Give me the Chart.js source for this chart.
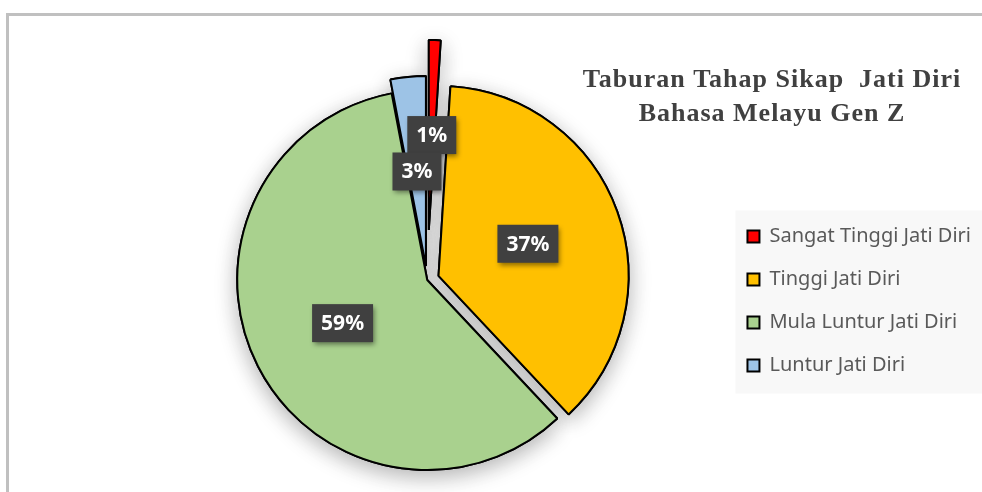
<!DOCTYPE html>
<html>
<head>
<meta charset="utf-8">
<script src="https://cdn.jsdelivr.net/npm/chart.js@4"></script>
<style>
  html, body { margin: 0; padding: 0; background: #fff; overflow: hidden; }
  #wrap { position: relative; width: 982px; height: 492px; }
  #frame {
    position: absolute; left: 6px; top: 13px; width: 1000px; height: 500px;
    border-left: 3px solid #c0c0c0; border-top: 3px solid #c0c0c0;
  }
  canvas { position: absolute; left: 0; top: 0; }
</style>
</head>
<body>
<div id="wrap">
  <div id="frame"></div>
  <canvas id="myPieChart" width="982" height="492"></canvas>
</div>
<script>
const labels = [
  'Sangat Tinggi Jati Diri',
  'Tinggi Jati Diri',
  'Mula Luntur Jati Diri',
  'Luntur Jati Diri'
];
const values = [1, 37, 59, 3]; // percent
const colors = ['#ff0000', '#ffc000', '#a9d18e', '#9dc3e6'];
const explode = [50, 12, 0, 14]; // px each slice is pulled out
const titleLines = ['Taburan Tahap Sikap  Jati Diri', 'Bahasa Melayu Gen Z'];

function shiftOf(arc, i) {
  const mid = (arc.startAngle + arc.endAngle) / 2;
  return { dx: Math.cos(mid) * explode[i], dy: Math.sin(mid) * explode[i], mid: mid };
}

const decor = {
  id: 'decor',
  beforeDraw(chart) {
    // grey box behind the legend
    const boxes = chart.legend.legendHitBoxes;
    if (!boxes || !boxes.length) return;
    const first = boxes[0], last = boxes[boxes.length - 1];
    const ctx = chart.ctx;
    ctx.save();
    ctx.fillStyle = '#f8f8f8';
    ctx.fillRect(first.left - 12, first.top - 16, 260, last.top + last.height - first.top + 34);
    ctx.restore();
  },
  beforeDatasetDraw(chart, args) {
    // exploded slices: shadow pass, then the slices themselves
    const ctx = chart.ctx;
    const arcs = args.meta.data;
    ctx.save();
    ctx.shadowColor = 'rgba(0,0,0,0.3)';
    ctx.shadowBlur = 22;
    ctx.shadowOffsetY = 6;
    arcs.forEach((arc, i) => {
      const s = shiftOf(arc, i);
      ctx.save();
      ctx.translate(s.dx, s.dy);
      arc.draw(ctx);
      ctx.restore();
    });
    ctx.restore();
    arcs.forEach((arc, i) => {
      const s = shiftOf(arc, i);
      ctx.save();
      ctx.translate(s.dx, s.dy);
      arc.draw(ctx);
      ctx.restore();
    });
    return false;
  },
  afterDatasetsDraw(chart) {
    const ctx = chart.ctx;
    const meta = chart.getDatasetMeta(0);
    ctx.save();
    ctx.font = 'bold 21px "Noto Sans"';
    ctx.textAlign = 'center';
    ctx.textBaseline = 'middle';
    meta.data.forEach((arc, i) => {
      const s = shiftOf(arc, i);
      const x = arc.x + s.dx + Math.cos(s.mid) * arc.outerRadius / 2;
      const y = arc.y + s.dy + Math.sin(s.mid) * arc.outerRadius / 2;
      const txt = values[i] + '%';
      const w = ctx.measureText(txt).width + 18;
      const h = 38;
      ctx.save();
      ctx.shadowColor = 'rgba(0,0,0,0.45)';
      ctx.shadowBlur = 5;
      ctx.shadowOffsetX = 2;
      ctx.shadowOffsetY = 3;
      ctx.fillStyle = '#404040';
      ctx.fillRect(x - w / 2, y - h / 2, w, h);
      ctx.restore();
      ctx.fillStyle = '#ffffff';
      ctx.fillText(txt, x, y + 1);
    });
    ctx.restore();
  },
  afterDraw(chart) {
    const ctx = chart.ctx;
    ctx.save();
    ctx.font = 'bold 26px "Liberation Serif"';
    ctx.letterSpacing = '1px';
    ctx.fillStyle = '#404040';
    ctx.textAlign = 'center';
    ctx.textBaseline = 'alphabetic';
    ctx.fillText(titleLines[0], 772, 87);
    ctx.fillText(titleLines[1], 772, 121);
    ctx.restore();
  }
};

const ctx = document.getElementById('myPieChart').getContext('2d');
const myPieChart = new Chart(ctx, {
  type: 'pie',
  data: {
    labels: labels,
    datasets: [{
      data: values,
      backgroundColor: colors,
      borderColor: '#000000',
      borderWidth: 2
    }]
  },
  options: {
    responsive: false,
    animation: false,
    radius: 190,
    layout: { padding: { left: 130, top: 68, right: 1, bottom: 0 } },
    plugins: {
      legend: {
        position: 'right',
        align: 'center',
        title: { display: true, text: '', font: { size: 10 }, padding: { top: 30, bottom: 0 } },
        labels: {
          boxWidth: 12,
          boxHeight: 12,
          padding: 23,
          color: '#595959',
          font: { family: 'Noto Sans', size: 20 }
        }
      },
      tooltip: { enabled: false }
    }
  },
  plugins: [decor]
});
</script>
</body>
</html>
